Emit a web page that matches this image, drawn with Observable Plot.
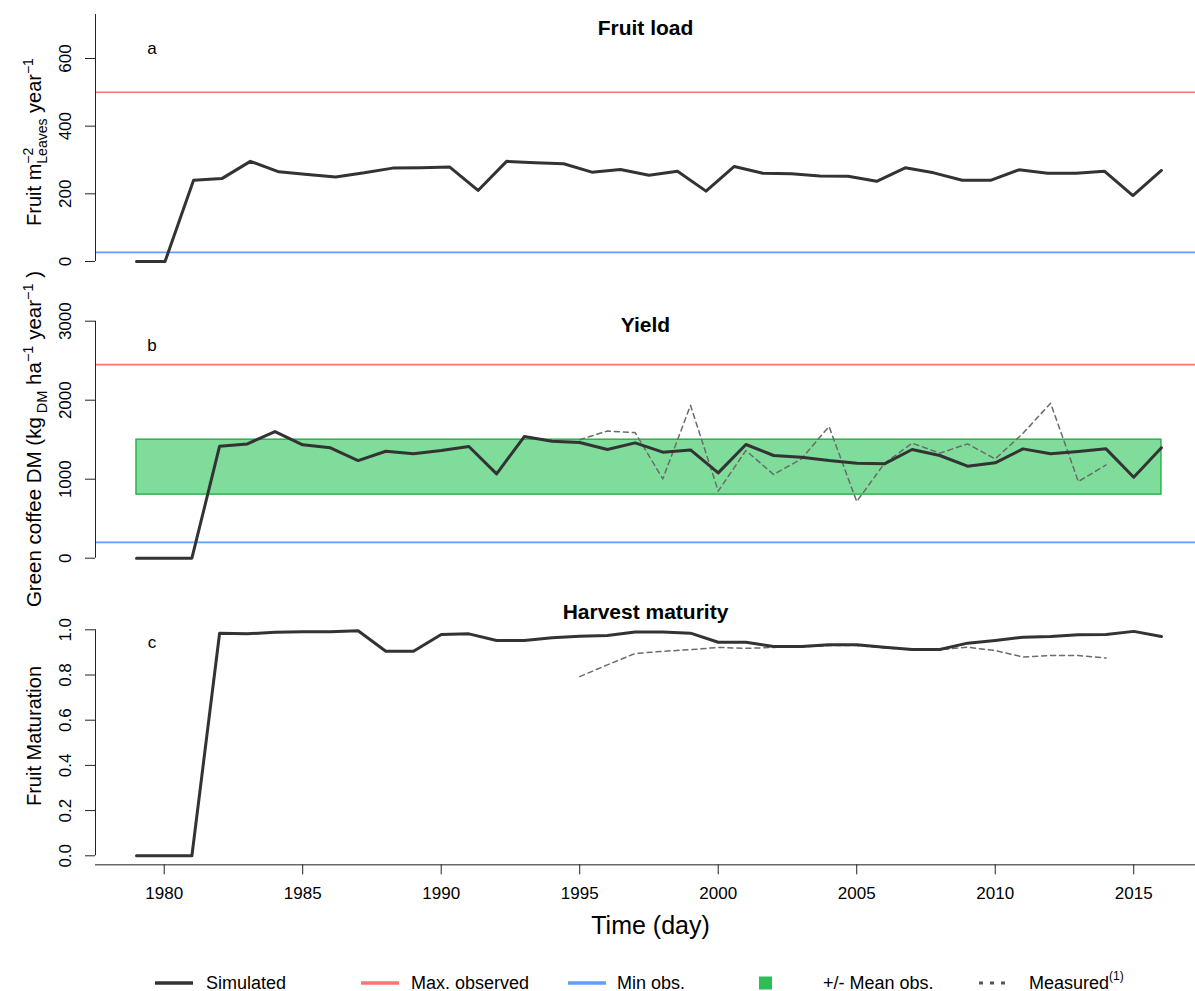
<!DOCTYPE html>
<html>
<head>
<meta charset="utf-8">
<script src="https://cdn.jsdelivr.net/npm/d3@7"></script>
<script src="https://cdn.jsdelivr.net/npm/@observablehq/plot@0.6"></script>
<style>
  html, body { margin: 0; padding: 0; background: #fff; overflow: hidden; }
  #chart { position: relative; width: 1195px; height: 991px; font-family: "Liberation Sans", Arial, Helvetica, sans-serif; color: #000; }
  .panel { position: absolute; left: 0; }
  .legend-item { position: absolute; top: 972px; height: 22px; line-height: 22px; font-size: 18px; white-space: nowrap; }
  .legend-swatch { position: absolute; top: 972px; }
  sup { font-size: 12px; line-height: 0; vertical-align: 9px; }
</style>
</head>
<body>
<div id="chart"></div>
<script>
// Simulation years (yield and harvest maturity)
const years = [1979, 1980, 1981, 1982, 1983, 1984, 1985, 1986, 1987, 1988,
               1989, 1990, 1991, 1992, 1993, 1994, 1995, 1996, 1997, 1998,
               1999, 2000, 2001, 2002, 2003, 2004, 2005, 2006, 2007, 2008,
               2009, 2010, 2011, 2012, 2013, 2014, 2015, 2016];

// (a) fruit load output dates, in decimal years
const fruitLoadTime = [1979.00, 1980.03, 1981.06, 1982.08, 1983.11, 1984.14, 1985.17, 1986.19,
                       1987.22, 1988.25, 1989.28, 1990.31, 1991.33, 1992.36, 1993.39, 1994.42,
                       1995.44, 1996.47, 1997.50, 1998.53, 1999.56, 2000.58, 2001.61, 2002.64,
                       2003.67, 2004.69, 2005.72, 2006.75, 2007.78, 2008.81, 2009.83, 2010.86,
                       2011.89, 2012.92, 2013.94, 2014.97, 2016.00];

// (a) simulated fruit load, fruits per m2 of leaves per year
const fruitLoad = [0, 0, 240, 245, 296, 265, 257, 250, 262, 276,
                   277, 279, 210, 296, 292, 289, 264, 272, 255, 267,
                   208, 281, 261, 259, 253, 252, 237, 277, 262, 240,
                   240, 271, 261, 261, 267, 195, 269];

// (b) simulated green coffee yield, kg DM per ha per year
const yieldSim = [0, 0, 0, 1418, 1447, 1603, 1435, 1397, 1236, 1354,
                  1321, 1363, 1414, 1068, 1540, 1481, 1464, 1376, 1460, 1342,
                  1371, 1080, 1439, 1300, 1278, 1236, 1203, 1194, 1376, 1300,
                  1165, 1207, 1384, 1321, 1350, 1384, 1025, 1397];

// (c) simulated fruit maturation at harvest
const maturitySim = [0, 0, 0, 0.985, 0.982, 0.989, 0.991, 0.991, 0.996, 0.905,
                     0.905, 0.979, 0.982, 0.953, 0.953, 0.965, 0.972, 0.975, 0.990, 0.990,
                     0.985, 0.945, 0.945, 0.926, 0.926, 0.934, 0.934, 0.923, 0.913, 0.913,
                     0.941, 0.953, 0.967, 0.970, 0.978, 0.979, 0.993, 0.970];

// Field measurements
const measuredYears = [1995, 1996, 1997, 1998, 1999, 2000, 2001, 2002, 2003, 2004,
                       2005, 2006, 2007, 2008, 2009, 2010, 2011, 2012, 2013, 2014];
const yieldMeasured = [1500, 1610, 1590, 1004, 1935, 850, 1363, 1059, 1257, 1667,
                       717, 1200, 1456, 1330, 1447, 1257, 1580, 1962, 970, 1180];
const maturityMeasured = [0.793, 0.845, 0.895, 0.905, 0.912, 0.922, 0.918, 0.922, 0.924, 0.930,
                          0.930, 0.920, 0.912, 0.912, 0.923, 0.908, 0.880, 0.886, 0.886, 0.875];

// Observed references
const fruitLoadMax = 500, fruitLoadMin = 27;
const yieldMax = 2450, yieldMin = 200;
const yieldMeanBand = [805, 1500];

// Tick values
const fruitTicks = [0, 200, 400, 600];
const yieldTicks = [0, 1000, 2000, 3000];
const maturityTicks = [0, 0.2, 0.4, 0.6, 0.8, 1.0];
const yearTicks = [1980, 1985, 1990, 1995, 2000, 2005, 2010, 2015];

// Legend entries
const legendLabels = ["Simulated", "Max. observed", "Min obs.", "+/- Mean obs.", "Measured"];

const FONT = '"Liberation Sans", Arial, Helvetica, sans-serif';
const W = 1195;
const X_DOMAIN = [1977.52, 2017.23];
const COL = { sim: "#333333", max: "#F8766D", min: "#619CFF", band: "#00BA38", meas: "#6b6b6b", axis: "#222" };

const chart = document.getElementById("chart");

function panel(cfg) {
  const simX = cfg.simX || years;
  const sim = simX.map((year, i) => ({ year, value: cfg.sim[i] }));
  const marks = [];
  if (cfg.band) {
    marks.push(Plot.rect([{ x1: years[0], x2: years[years.length - 1], y1: cfg.band[0], y2: cfg.band[1] }], {
      x1: "x1", x2: "x2", y1: "y1", y2: "y2",
      fill: COL.band, fillOpacity: 0.5, stroke: "#2BB24E", strokeWidth: 1.5
    }));
  }
  if (cfg.max != null) marks.push(Plot.ruleY([cfg.max], { stroke: COL.max, strokeWidth: 1.6 }));
  if (cfg.min != null) marks.push(Plot.ruleY([cfg.min], { stroke: COL.min, strokeWidth: 1.6 }));
  if (cfg.meas) {
    marks.push(Plot.line(measuredYears.map((year, i) => ({ year, value: cfg.meas[i] })), {
      x: "year", y: "value", stroke: COL.meas, strokeWidth: 1.5, strokeDasharray: "5,4"
    }));
  }
  marks.push(Plot.line(sim, { x: "year", y: "value", stroke: COL.sim, strokeWidth: 3, strokeLinejoin: "round" }));

  // y axis: line, ticks and rotated labels
  marks.push(Plot.ruleX([X_DOMAIN[0]], { y1: cfg.ticks[0], y2: cfg.axisTop, stroke: COL.axis, strokeWidth: 1 }));
  marks.push(Plot.axisY({ ticks: cfg.ticks, tickSize: 10, tickFormat: () => "", label: null, stroke: COL.axis }));
  marks.push(Plot.text(cfg.ticks, {
    frameAnchor: "left", y: d => d, text: cfg.fmt, rotate: -90, dx: -29.5,
    textAnchor: "middle", lineAnchor: "middle", fontSize: 17, fill: "#000"
  }));

  // panel title and tag
  marks.push(Plot.text([cfg.title], {
    frameAnchor: "top", text: d => d, dy: cfg.titleDy, dx: 0,
    fontSize: 21, fontWeight: "bold", textAnchor: "middle", lineAnchor: "middle", fill: "#000"
  }));
  marks.push(Plot.text([cfg.tag], {
    frameAnchor: "top-left", text: d => d, dx: 56.5, dy: cfg.tagDy,
    fontSize: 17, textAnchor: "middle", lineAnchor: "middle", fill: "#000"
  }));

  if (cfg.xAxis) {
    marks.push(Plot.ruleY([cfg.yDomain[0]], { stroke: COL.axis, strokeWidth: 1 }));
    marks.push(Plot.axisX({ ticks: yearTicks, tickSize: 10, tickPadding: 12, tickFormat: d => String(d),
      fontSize: 17, label: null, stroke: COL.axis }));
    marks.push(Plot.text(["Time (day)"], {
      frameAnchor: "bottom", text: d => d, dy: 61, dx: 5, fontSize: 25,
      textAnchor: "middle", lineAnchor: "middle", fill: "#000"
    }));
  }

  const svg = Plot.plot({
    width: W,
    height: cfg.height,
    marginLeft: 95,
    marginRight: 0,
    marginTop: cfg.marginTop,
    marginBottom: cfg.marginBottom,
    style: { fontFamily: FONT, fontSize: "17px", background: "transparent", overflow: "visible", color: "#000" },
    x: cfg.xAxis ? { domain: X_DOMAIN } : { domain: X_DOMAIN, axis: null },
    y: { domain: cfg.yDomain, label: null },
    marks
  });
  svg.classList.add("panel");
  svg.style.top = cfg.top + "px";
  chart.appendChild(svg);
  addYLabel(svg, 41, cfg.labelY, cfg.label, cfg.labelSize || 20);
  return svg;
}

// Rotated axis title built from text runs (superscripts, subscripts)
function addYLabel(svg, x, y, parts, size) {
  const text = d3.select(svg).append("text")
    .attr("transform", `translate(${x},${y}) rotate(-90)`)
    .attr("text-anchor", "middle")
    .attr("fill", "#000")
    .style("font-family", FONT)
    .style("font-size", size + "px");
  let prev = null;
  for (const p of parts) {
    const ts = text.append("tspan").text(p.t);
    if (p.size) ts.style("font-size", p.size + "px");
    if (p.dy) ts.attr("dy", p.dy);
    if (p.under && prev) ts.attr("dx", -prev.node().getComputedTextLength());
    prev = ts;
  }
}

panel({
  top: 0, height: 290, marginTop: 14, marginBottom: 19.5,
  yDomain: [-28.08, 730], axisTop: 730, ticks: fruitTicks, fmt: d => String(d),
  simX: fruitLoadTime, sim: fruitLoad, max: fruitLoadMax, min: fruitLoadMin,
  title: "Fruit load", titleDy: 14, tag: "a", tagDy: 34,
  labelY: 142,
  label: [
    { t: "Fruit m" },
    { t: "\u22122", size: 14, dy: -8 },
    { t: "Leaves", size: 14, dy: 14, under: true },
    { t: " year", dy: -6 },
    { t: "\u22121", size: 14, dy: -8 }
  ]
});

panel({
  top: 290, height: 300, marginTop: 7, marginBottom: 22.82,
  yDomain: [-120, 3300], axisTop: 3000, ticks: yieldTicks, fmt: d => String(d),
  sim: yieldSim, max: yieldMax, min: yieldMin, band: yieldMeanBand, meas: yieldMeasured,
  title: "Yield", titleDy: 28, tag: "b", tagDy: 48,
  labelY: 149, labelSize: 20.5,
  label: [
    { t: "Green coffee DM (kg" },
    { t: " DM", size: 14.5, dy: 6 },
    { t: " ha", dy: -6 },
    { t: "\u22121", size: 14.5, dy: -8 },
    { t: " year", dy: 8 },
    { t: "\u22121", size: 14.5, dy: -8 },
    { t: " )", dy: 8 }
  ]
});

panel({
  top: 590, height: 350, marginTop: 16.7, marginBottom: 75.66,
  yDomain: [-0.04, 1.1], axisTop: 1.0, ticks: maturityTicks, fmt: d3.format(".1f"),
  sim: maturitySim, meas: maturityMeasured,
  title: "Harvest maturity", titleDy: 5.3, tag: "c", tagDy: 35.8,
  labelY: 146, xAxis: true,
  label: [{ t: "Fruit Maturation" }]
});

// Legend below the panels
const swatchX = [155, 361, 568, 759, 979];
const textX = [206, 411, 617, 823, 1029];
const swatchKind = ["line", "line", "line", "square", "dash"];
const swatchColor = [COL.sim, COL.max, COL.min, "#2EBE56", "#555555"];
legendLabels.forEach((label, i) => {
  const sw = d3.select(chart).append("svg").attr("class", "legend-swatch")
    .attr("width", 40).attr("height", 22)
    .style("left", swatchX[i] + "px");
  if (swatchKind[i] === "line") {
    sw.append("line").attr("x1", 0).attr("x2", 38).attr("y1", 11).attr("y2", 11)
      .attr("stroke", swatchColor[i]).attr("stroke-width", 3.5);
  } else if (swatchKind[i] === "square") {
    sw.append("rect").attr("x", 0).attr("y", 4.5).attr("width", 13).attr("height", 13).attr("fill", swatchColor[i]);
  } else {
    sw.append("line").attr("x1", 0).attr("x2", 28).attr("y1", 11).attr("y2", 11)
      .attr("stroke", swatchColor[i]).attr("stroke-width", 3).attr("stroke-dasharray", "4,7");
  }
  const t = d3.select(chart).append("div").attr("class", "legend-item").style("left", textX[i] + "px").text(label);
  if (i === legendLabels.length - 1) t.append("sup").text("(1)");
});
</script>
</body>
</html>
